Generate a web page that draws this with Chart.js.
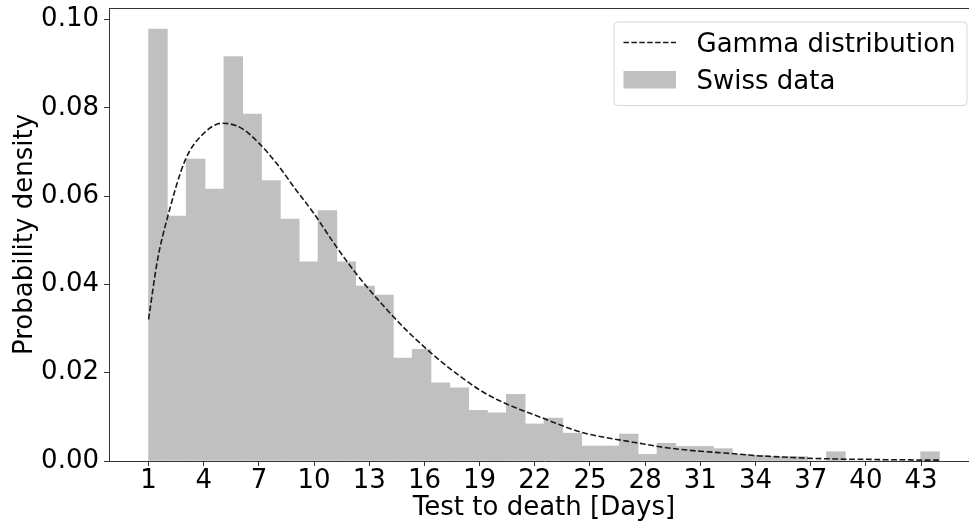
<!DOCTYPE html>
<html>
<head>
<meta charset="utf-8">
<script src="https://cdn.jsdelivr.net/npm/chart.js@4"></script>
<style>
  html, body { margin: 0; padding: 0; background: #fff; overflow: hidden; }
  /* the axes box runs a little past the right edge of the picture, like the original */
  #wrap { width: 980px; height: 523px; position: relative; }
</style>
</head>
<body>
<div id="wrap"><canvas id="histChart"></canvas></div>
<script>
// histogram: 42 bins spanning day 1 to day 44
const binStart = 1;
const binEnd = 44;
const swissDensity = [
  0.0978, 0.0555, 0.0684, 0.0616, 0.0916, 0.0786, 0.0635, 0.0548, 0.0451, 0.0567,
  0.0451, 0.0396, 0.0376, 0.0233, 0.0253, 0.0177, 0.0166, 0.0115, 0.0109, 0.0151,
  0.0084, 0.0097, 0.0063, 0.0034, 0.0034, 0.0061, 0.0015, 0.0040, 0.0033, 0.0033,
  0.0028, 0.0015, 0.0013, 0.0010, 0.0010, 0.0000, 0.0021, 0.0000, 0.0000, 0.0000,
  0.0000, 0.0021
];

// fitted gamma curve
const gammaDays = [1, 1.5, 2, 3, 4, 5, 6, 7, 8, 9, 10, 11, 12, 13, 14, 15, 16, 17, 18, 19, 20, 21, 22,
  23, 24, 25, 26, 27, 28, 29, 30, 31, 32, 33, 34, 35, 36, 37, 38, 39, 40, 41, 42, 43, 44];
const gammaDensity = [0.0321, 0.0458, 0.0547, 0.0682, 0.0742, 0.0765, 0.0755, 0.0720, 0.0672, 0.0615,
  0.0560, 0.0498, 0.0440, 0.0388, 0.0341, 0.0297, 0.0258, 0.0222, 0.0190, 0.0161, 0.0138, 0.0120,
  0.0104, 0.0088, 0.0072, 0.0060, 0.0052, 0.0045, 0.0038, 0.0031, 0.0026, 0.0022, 0.0019, 0.0016,
  0.0012, 0.0010, 0.0008, 0.0006, 0.0005, 0.0004, 0.0004, 0.0003, 0.0003, 0.0002, 0.0002];

const xTicks = [1, 4, 7, 10, 13, 16, 19, 22, 25, 28, 31, 34, 37, 40, 43];
const yTicks = [0, 0.02, 0.04, 0.06, 0.08, 0.10];

const legendLabels = ["Gamma distribution", "Swiss data"];

const FONT = "'DejaVu Sans', sans-serif";
const BAR_COLOR = "#c0c0c0";
const LINE_COLOR = "#1a1a1a";
const AXIS_COLOR = "#333";
const DASH = [5.8, 2.6];

const binWidth = (binEnd - binStart) / swissDensity.length;
const barPoints = swissDensity.map((v, i) => ({ x: binStart + (i + 0.5) * binWidth, y: v }));
const curvePoints = gammaDays.map((d, i) => ({ x: d, y: gammaDensity[i] }));

// top spine + matplotlib-style legend box
const framePlugin = {
  id: "frame",
  afterDraw(chart) {
    const { ctx, chartArea } = chart;
    ctx.save();
    ctx.strokeStyle = AXIS_COLOR;
    ctx.lineWidth = 1;
    ctx.beginPath();
    ctx.moveTo(chartArea.left, chartArea.top + 0.5);
    ctx.lineTo(chartArea.right, chartArea.top + 0.5);
    ctx.stroke();

    const right = chartArea.right - 12.5;
    const top = chartArea.top + 13.5;
    const w = 353, h = 83.5;
    const left = right - w;
    ctx.beginPath();
    ctx.roundRect(left + 0.5, top + 0.5, w, h, 4);
    ctx.fillStyle = "rgba(255,255,255,0.85)";
    ctx.fill();
    ctx.strokeStyle = "#d6d6d6";
    ctx.stroke();

    // dashed line sample
    ctx.strokeStyle = LINE_COLOR;
    ctx.lineWidth = 1.6;
    ctx.setLineDash([5.5, 2.4]);
    ctx.beginPath();
    ctx.moveTo(left + 10, top + 21);
    ctx.lineTo(left + 62.5, top + 21);
    ctx.stroke();
    ctx.setLineDash([]);

    // bar patch
    ctx.fillStyle = BAR_COLOR;
    ctx.fillRect(left + 10, top + 49.5, 52.5, 17.5);

    ctx.fillStyle = "#000";
    ctx.font = "26px " + FONT;
    ctx.textBaseline = "alphabetic";
    ctx.fillText(legendLabels[0], left + 83, top + 30.5);
    ctx.fillText(legendLabels[1], left + 83, top + 67);
    ctx.restore();
  }
};

new Chart(document.getElementById("histChart"), {
  type: "bar",
  data: {
    datasets: [
      {
        type: "line",
        label: legendLabels[0],
        data: curvePoints,
        borderColor: LINE_COLOR,
        borderWidth: 1.6,
        borderDash: DASH,
        pointRadius: 0,
        tension: 0.4,
        cubicInterpolationMode: "monotone",
        fill: false,
        order: 0
      },
      {
        label: legendLabels[1],
        data: barPoints,
        backgroundColor: BAR_COLOR,
        borderWidth: 0,
        barPercentage: 1,
        categoryPercentage: 1,
        order: 1
      }
    ]
  },
  options: {
    responsive: true,
    maintainAspectRatio: false,
    animation: false,
    layout: { padding: { top: 8, right: 1, left: 0, bottom: 0 } },
    plugins: { legend: { display: false }, tooltip: { enabled: false } },
    scales: {
      x: {
        type: "linear",
        min: -1.15,
        max: 46.15,
        offset: false,
        afterBuildTicks: (axis) => { axis.ticks = xTicks.map(v => ({ value: v })); },
        afterFit: (axis) => { axis.height = 62; axis.paddingLeft = 0; axis.paddingRight = 0; },
        grid: { display: true, drawOnChartArea: false, drawTicks: true, tickLength: 5, color: AXIS_COLOR, offset: false },
        border: { display: true, color: AXIS_COLOR, width: 1 },
        ticks: {
          color: "#000",
          font: { family: FONT, size: 26, lineHeight: 1 },
          padding: 2,
          maxRotation: 0,
          autoSkip: false,
          callback: (v) => String(v)
        },
        title: {
          display: true,
          text: "Test to death [Days]",
          color: "#000",
          font: { family: FONT, size: 26, lineHeight: 1 },
          padding: { top: 0, bottom: 1.5 }
        }
      },
      y: {
        min: 0,
        max: 0.1026,
        afterBuildTicks: (axis) => { axis.ticks = yTicks.map(v => ({ value: v })); },
        afterFit: (axis) => { axis.width = 109; axis.paddingTop = 0; axis.paddingBottom = 0; },
        grid: { display: true, drawOnChartArea: false, drawTicks: true, tickLength: 5, color: AXIS_COLOR },
        border: { display: true, color: AXIS_COLOR, width: 1 },
        ticks: {
          color: "#000",
          font: { family: FONT, size: 26, lineHeight: 1 },
          padding: 5,
          callback: (v) => v.toFixed(2)
        },
        title: {
          display: true,
          text: "Probability density",
          color: "#000",
          font: { family: FONT, size: 26, lineHeight: 1 },
          padding: { top: 12.5, bottom: 0 }
        }
      }
    }
  },
  plugins: [framePlugin]
});
</script>
</body>
</html>
